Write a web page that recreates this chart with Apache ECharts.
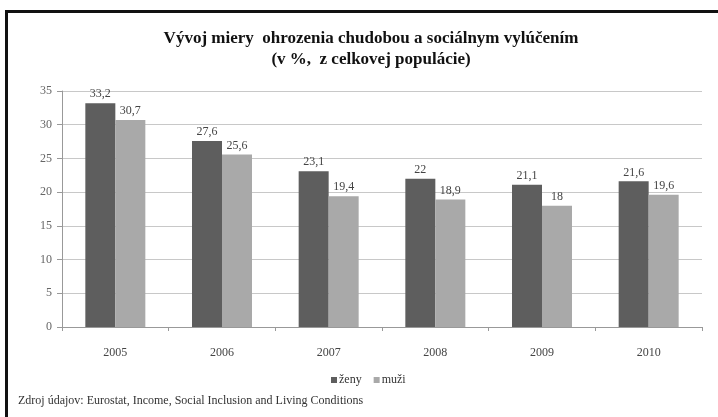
<!DOCTYPE html>
<html><head><meta charset="utf-8">
<script src="https://cdn.jsdelivr.net/npm/echarts@6/dist/echarts.min.js"></script>
<style>html,body{margin:0;padding:0;background:#fff}#c{width:718px;height:417px}</style>
</head><body><div id="c"></div>
<script>
const years = ['2005','2006','2007','2008','2009','2010'];
const zeny = [33.2, 27.6, 23.1, 22, 21.1, 21.6];
const muzi = [30.7, 25.6, 19.4, 18.9, 18, 19.6];
const yTicks = [0, 5, 10, 15, 20, 25, 30, 35];
const titleText = 'Vývoj miery  ohrozenia chudobou a sociálnym vylúčením\n(v %,  z celkovej populácie)';
const sourceText = 'Zdroj údajov: Eurostat, Income, Social Inclusion and Living Conditions';

const serif = '"Liberation Serif", "DejaVu Serif", serif';
const fmt = p => String(p.value).replace('.', ',');
const chart = echarts.init(document.getElementById('c'));
chart.setOption({
  animation: false,
  backgroundColor: '#fff',
  title: {
    text: titleText, left: 366, textAlign: 'center', top: 23,
    textStyle: { fontFamily: serif, fontWeight: 'bold', fontSize: 17, color: '#111', lineHeight: 21 }
  },
  legend: {
    data: ['ženy', 'muži'], top: 369, left: 326,
    itemWidth: 6, itemHeight: 6, itemGap: 12, icon: 'rect',
    textStyle: { fontFamily: serif, fontSize: 12, color: '#333', padding: [0, 0, 0, -3] }
  },
  grid: { left: 62, right: 16, top: 91, bottom: 90, containLabel: false },
  xAxis: {
    type: 'category', data: years,
    axisLine: { lineStyle: { color: '#999' } },
    axisTick: { show: true, length: 4, lineStyle: { color: '#999' } },
    axisLabel: { fontFamily: serif, fontSize: 12, color: '#444', margin: 20 }
  },
  yAxis: {
    type: 'value', min: yTicks[0], max: yTicks[yTicks.length - 1], interval: 5,
    axisLine: { show: true, lineStyle: { color: '#999' } },
    axisTick: { show: true, length: 5, lineStyle: { color: '#999' } },
    axisLabel: { fontFamily: serif, fontSize: 12, color: '#666', margin: 10 },
    splitLine: { lineStyle: { color: '#c8c8c8' } }
  },
  series: [
    { name: 'ženy', type: 'bar', data: zeny, barWidth: 30, barGap: '0%',
      itemStyle: { color: '#5e5e5e' },
      label: { show: true, position: 'top', formatter: fmt, fontFamily: serif, fontSize: 12, color: '#444', distance: 3 } },
    { name: 'muži', type: 'bar', data: muzi, barWidth: 30,
      itemStyle: { color: '#a9a9a9' },
      label: { show: true, position: 'top', formatter: fmt, fontFamily: serif, fontSize: 12, color: '#444', distance: 3 } }
  ],
  graphic: [
    { type: 'rect', shape: { x: 5, y: 10, width: 720, height: 3 }, style: { fill: '#111' } },
    { type: 'rect', shape: { x: 5, y: 10, width: 3, height: 420 }, style: { fill: '#111' } },
    { type: 'text', left: 18, top: 395, style: { text: sourceText, fontFamily: serif, fontSize: 12, fill: '#333' } }
  ]
});
</script></body></html>
